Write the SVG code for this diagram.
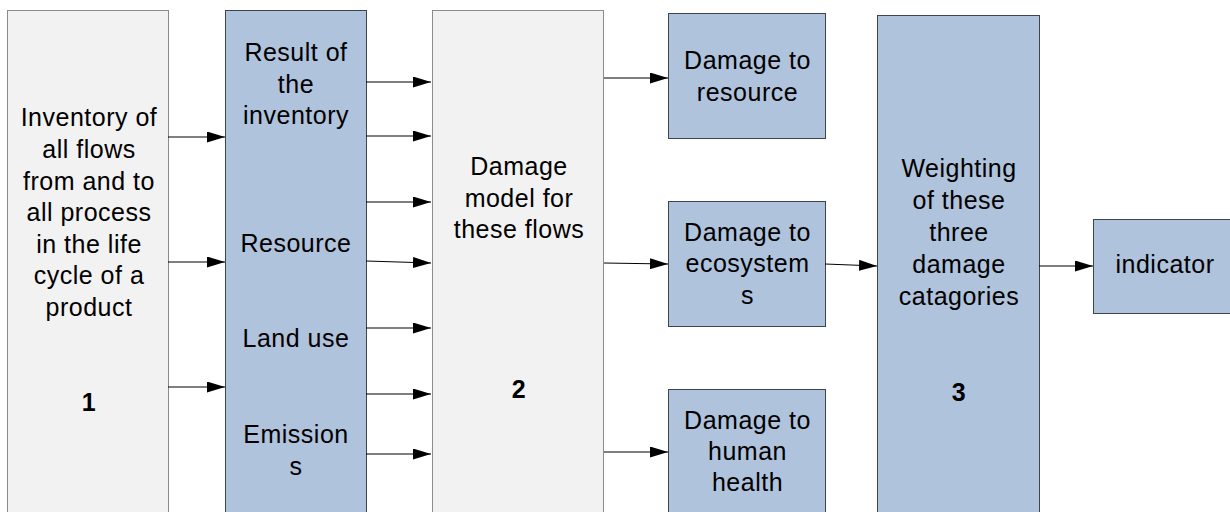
<svg xmlns="http://www.w3.org/2000/svg" width="1230" height="512" viewBox="0 0 1230 512">
<style>
.grey{fill:#f2f2f2;stroke:#8c8c8c;stroke-width:1}
.blue{fill:#b0c3dc;stroke:#3c4550;stroke-width:1}
.t{font-family:"Liberation Sans",Arial,sans-serif;font-size:25px;fill:#000;text-anchor:middle;letter-spacing:0.5px}
.n{font-weight:bold}
.c line{stroke:#000;stroke-width:1;marker-end:url(#ah)}
</style>
<defs>
<marker id="ah" markerUnits="userSpaceOnUse" markerWidth="18" markerHeight="11" refX="18" refY="5.5" orient="auto">
<path d="M0,0 L18,5.5 L0,11 z" fill="#000"/>
</marker>
</defs>
<rect width="1230" height="512" fill="#fff"/>
<g id="inventory">
<rect class="grey" x="7.5" y="10.5" width="161" height="520"/>
<text class="t"><tspan x="89" y="126">Inventory of</tspan><tspan x="89" y="158">all flows</tspan><tspan x="89" y="189.5">from and to</tspan><tspan x="89" y="221">all process</tspan><tspan x="89" y="252.5">in the life</tspan><tspan x="89" y="284">cycle of a</tspan><tspan x="89" y="315.5">product</tspan></text>
<text class="t n" x="89" y="411">1</text>
</g>
<g id="result">
<rect class="blue" x="225.5" y="10.5" width="141" height="520"/>
<text class="t"><tspan x="296" y="61">Result of</tspan><tspan x="296" y="92.5">the</tspan><tspan x="296" y="124">inventory</tspan><tspan x="296" y="252">Resource</tspan><tspan x="296" y="347">Land use</tspan><tspan x="296" y="443">Emission</tspan><tspan x="296" y="475">s</tspan></text>
</g>
<g id="damagemodel">
<rect class="grey" x="432.5" y="10.5" width="171" height="520"/>
<text class="t"><tspan x="519" y="175">Damage</tspan><tspan x="519" y="206.5">model for</tspan><tspan x="519" y="238">these flows</tspan></text>
<text class="t n" x="519" y="398">2</text>
</g>
<g id="dmgresource">
<rect class="blue" x="668.5" y="13.5" width="157" height="125"/>
<text class="t"><tspan x="747.5" y="69">Damage to</tspan><tspan x="747.5" y="100.5">resource</tspan></text>
</g>
<g id="dmgecosystems">
<rect class="blue" x="668.5" y="201.5" width="157" height="125"/>
<text class="t"><tspan x="747.5" y="240.5">Damage to</tspan><tspan x="747.5" y="272">ecosystem</tspan><tspan x="747.5" y="303.5">s</tspan></text>
</g>
<g id="dmghealth">
<rect class="blue" x="668.5" y="389.5" width="157" height="140"/>
<text class="t"><tspan x="747.5" y="428.5">Damage to</tspan><tspan x="747.5" y="460">human</tspan><tspan x="747.5" y="491">health</tspan></text>
</g>
<g id="weighting">
<rect class="blue" x="877.5" y="15.5" width="162" height="515"/>
<text class="t"><tspan x="959" y="177">Weighting</tspan><tspan x="959" y="209">of these</tspan><tspan x="959" y="241">three</tspan><tspan x="959" y="273">damage</tspan><tspan x="959" y="305">catagories</tspan></text>
<text class="t n" x="959" y="401">3</text>
</g>
<g id="indicator">
<rect class="blue" x="1093.5" y="219.5" width="143" height="94"/>
<text class="t" x="1165" y="273">indicator</text>
</g>
<g id="connectors" class="c">
<line x1="168" y1="137" x2="225" y2="137"/>
<line x1="168" y1="262" x2="225" y2="262"/>
<line x1="168" y1="387" x2="225" y2="387"/>
<line x1="366" y1="82" x2="431" y2="82"/>
<line x1="366" y1="136" x2="431" y2="136"/>
<line x1="366" y1="202" x2="431" y2="202"/>
<line x1="366" y1="261" x2="431" y2="263"/>
<line x1="366" y1="328" x2="431" y2="328"/>
<line x1="366" y1="394" x2="431" y2="394"/>
<line x1="366" y1="454" x2="431" y2="454"/>
<line x1="604" y1="78" x2="668" y2="78"/>
<line x1="604" y1="263" x2="668" y2="264"/>
<line x1="604" y1="452" x2="668" y2="452"/>
<line x1="825" y1="264" x2="877" y2="266"/>
<line x1="1039" y1="266" x2="1093" y2="266"/>
</g>
</svg>
